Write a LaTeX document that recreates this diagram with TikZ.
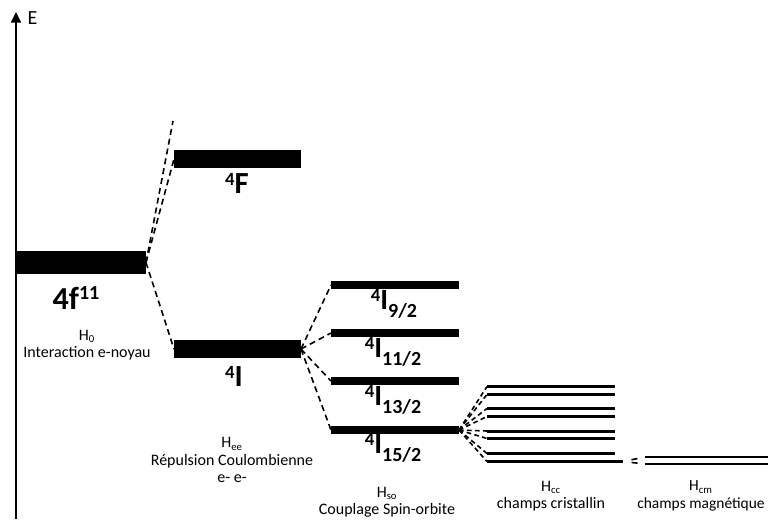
\documentclass[tikz,border=0pt]{standalone}
\usepackage{fontspec}
\setmainfont{Carlito}
\usetikzlibrary{arrows.meta}

\newcommand{\termsym}[3]{\raisebox{6pt}{\fontsize{14}{14}\selectfont #1}#2\raisebox{-6.5pt}{\fontsize{15}{15}\selectfont #3}}

\begin{document}
\begin{tikzpicture}[x=0.75pt,y=-0.75pt]
  \tikzstyle{bar}=[fill=black,inner sep=0pt,outer sep=0pt]
  \tikzstyle{split}=[dashed,line width=1.2pt,dash pattern=on 4.5pt off 3pt]
  \tikzstyle{lbl}=[align=center,font=\fontsize{12}{13}\selectfont]
  \tikzstyle{term}=[font=\bfseries\fontsize{22}{24}\selectfont,inner sep=0pt]
  \useasboundingbox (0,0) rectangle (768,519);
  % energy axis
  \coordinate (O) at (16,519);
  \coordinate (Etop) at (16,12);
  \path[draw,line width=1.5pt,-{Triangle[length=8pt,width=7.5pt]}] (O) -- (Etop);
  \node[anchor=west,font=\fontsize{15}{15}\selectfont] (E) at (23,18) {E};
  % levels
  \node[bar,minimum width=97.5pt,minimum height=17pt] (f11) at (81,262.5) {};
  \node[bar,minimum width=95.25pt,minimum height=13pt] (F) at (237.5,159) {};
  \node[bar,minimum width=95.25pt,minimum height=13pt] (I) at (237.5,349) {};
  \node[bar,minimum width=96pt,minimum height=6pt] (J9) at (395,285) {};
  \node[bar,minimum width=96pt,minimum height=6pt] (J11) at (395,333) {};
  \node[bar,minimum width=96pt,minimum height=6pt] (J13) at (395,381) {};
  \node[bar,minimum width=96pt,minimum height=6pt] (J15) at (395,430) {};
  \foreach \n/\y in {1/386.5,2/394.5,3/408.5,4/416.5,5/431,6/438.5,7/453.5}
    \node[bar,minimum width=96pt,minimum height=2.25pt] (c\n) at (551,\y) {};
  \node[bar,minimum width=102pt,minimum height=2.25pt] (c8) at (555,461.5) {};
  \node[bar,minimum width=92.25pt,minimum height=1.5pt] (m1) at (706.5,457) {};
  \node[bar,minimum width=92.25pt,minimum height=1.5pt] (m2) at (706.5,464) {};
  \coordinate (up) at (173,121);
  % splittings
  \path[draw,split] (f11.east) -- (up);
  \path[draw,split] (f11.east) -- (F.west);
  \path[draw,split] (f11.east) -- (I.west);
  \foreach \j in {9,11,13,15}
    \path[draw,split] (I.east) -- (J\j.west);
  \foreach \n in {1,...,8}
    \path[draw,split,dash pattern=on 3.5pt off 2.5pt] (J15.east) -- (c\n.west);
  \path[draw,split,dash pattern=on 0pt off 6.5pt on 4.5pt off 10pt] (c8.east) -- (m1.west);
  \path[draw,split,dash pattern=on 0pt off 6.5pt on 4.5pt off 10pt] (c8.east) -- (m2.west);
  % terms
  \node[term,font=\bfseries\fontsize{24}{26}\selectfont] (tf) at (76,298) {4f\raisebox{7pt}{\fontsize{15}{15}\selectfont 11}};
  \node[term,font=\bfseries\fontsize{23}{26}\selectfont] (tF) at (237,188) {\termsym{4}{F}{}};
  \node[term,font=\bfseries\fontsize{23}{26}\selectfont] (tI) at (234,381) {\termsym{4}{I}{}};
  \node[term] (t9) at (394,304) {\termsym{4}{I}{9/2}};
  \node[term] (t11) at (393,352) {\termsym{4}{I}{11/2}};
  \node[term] (t13) at (393,400) {\termsym{4}{I}{13/2}};
  \node[term] (t15) at (393,448) {\termsym{4}{I}{15/2}};
  % hamiltonians
  \node[lbl] (h0) at (87,345) {H\textsubscript{0}\\Interaction e-noyau};
  \node[lbl] (hee) at (232,460) {H\textsubscript{ee}\\Répulsion Coulombienne\\e- e-};
  \node[lbl] (hso) at (387,502) {H\textsubscript{so}\\Couplage Spin-orbite};
  \node[lbl] (hcc) at (551,496) {H\textsubscript{cc}\\champs cristallin};
  \node[lbl,font=\fontsize{11.6}{13}\selectfont] (hcm) at (701,496) {H\textsubscript{cm}\\champs magnétique};
\end{tikzpicture}
\end{document}
